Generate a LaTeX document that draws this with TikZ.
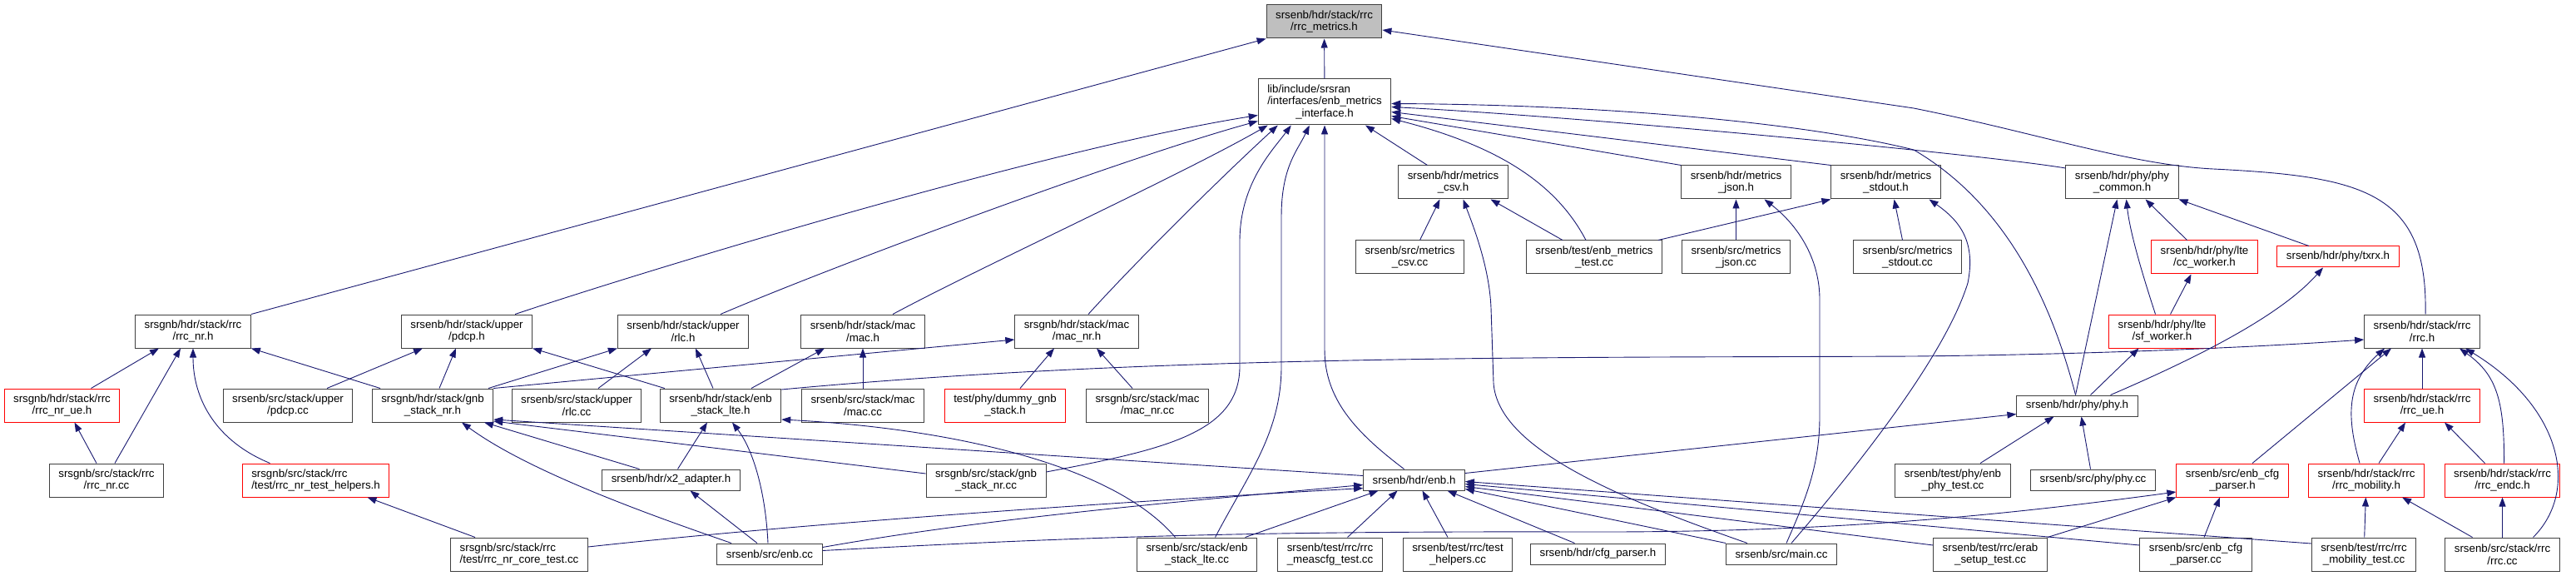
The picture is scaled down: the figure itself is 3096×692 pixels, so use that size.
\documentclass[tikz,border=0pt]{standalone}
\usepackage{fontspec}
\setmainfont{Liberation Sans}
\usetikzlibrary{arrows.meta}
\definecolor{edgeblue}{HTML}{191970}

\begin{document}
\begin{tikzpicture}[x=1pt, y=-1pt, >={Triangle[length=11pt,width=8pt]},
  font=\fontsize{13.3}{14.5}\selectfont,
  box/.style={draw=black!75, line width=1pt, fill=white, align=center,
    inner xsep=11pt, inner ysep=1pt, minimum height=40pt},
  redbox/.style={box, draw=red},
  dep/.style={->, draw=edgeblue, line width=0.9pt}]
\useasboundingbox (0,0) rectangle (3096,692);
% root header
\node[box, fill=black!25] (root) at (1591.5,26) {srsenb/hdr/stack/rrc\\/rrc\_metrics.h};
% metrics interface
\node[box, minimum height=55pt] (iface) at (1592,122.5)
  {\rlap{lib/include/srsran}\hphantom{/interfaces/enb\_metrics}\\/interfaces/enb\_metrics\\\_interface.h};
% metrics headers and sources
\node[box] (csvh) at (1746.5,219) {srsenb/hdr/metrics\\\_csv.h};
\node[box] (jsonh) at (2086.5,219) {srsenb/hdr/metrics\\\_json.h};
\node[box] (stdouth) at (2266.5,219) {srsenb/hdr/metrics\\\_stdout.h};
\node[box] (phycommon) at (2550.5,219) {srsenb/hdr/phy/phy\\\_common.h};
\node[box] (csvcc) at (1694.5,309) {srsenb/src/metrics\\\_csv.cc};
\node[box] (testcc) at (1916,309) {srsenb/test/enb\_metrics\\\_test.cc};
\node[box] (jsoncc) at (2086.5,309) {srsenb/src/metrics\\\_json.cc};
\node[box] (stdoutcc) at (2292.5,309) {srsenb/src/metrics\\\_stdout.cc};
\node[redbox] (ccworker) at (2649.5,309) {srsenb/hdr/phy/lte\\/cc\_worker.h};
\node[redbox, minimum height=25pt] (txrx) at (2810,308.5) {srsenb/hdr/phy/txrx.h};
% stack headers
\node[box] (rrcnrh) at (232,398) {srsgnb/hdr/stack/rrc\\/rrc\_nr.h};
\node[box] (pdcph) at (561,398) {srsenb/hdr/stack/upper\\/pdcp.h};
\node[box] (rlch) at (821,398) {srsenb/hdr/stack/upper\\/rlc.h};
\node[box] (mach) at (1037,398) {srsenb/hdr/stack/mac\\/mac.h};
\node[box] (macnrh) at (1294,398) {srsgnb/hdr/stack/mac\\/mac\_nr.h};
\node[redbox] (sfworker) at (2598.5,398) {srsenb/hdr/phy/lte\\/sf\_worker.h};
\node[box] (rrch) at (2911,398) {srsenb/hdr/stack/rrc\\/rrc.h};
% next row
\node[redbox] (rrcnrue) at (74.5,487) {srsgnb/hdr/stack/rrc\\/rrc\_nr\_ue.h};
\node[box] (pdcpcc) at (346,487) {srsenb/src/stack/upper\\/pdcp.cc};
\node[box] (gnbh) at (520,487) {srsgnb/hdr/stack/gnb\\\_stack\_nr.h};
\node[box] (rlccc) at (693,487) {srsenb/src/stack/upper\\/rlc.cc};
\node[box] (lteh) at (866,487) {srsenb/hdr/stack/enb\\\_stack\_lte.h};
\node[box] (maccc) at (1037,487) {srsenb/src/stack/mac\\/mac.cc};
\node[redbox] (dummy) at (1208,487) {test/phy/dummy\_gnb\\\_stack.h};
\node[box] (macnrcc) at (1379,487) {srsgnb/src/stack/mac\\/mac\_nr.cc};
\node[box, minimum height=25pt] (phyh) at (2496.5,487.5) {srsenb/hdr/phy/phy.h};
\node[redbox] (rrcue) at (2911,487) {srsenb/hdr/stack/rrc\\/rrc\_ue.h};
% enb.h row
\node[box] (rrcnrcc) at (128,577) {srsgnb/src/stack/rrc\\/rrc\_nr.cc};
\node[redbox] (helpers) at (379.5,577)
  {\rlap{srsgnb/src/stack/rrc}\hphantom{/test/rrc\_nr\_test\_helpers.h}\\/test/rrc\_nr\_test\_helpers.h};
\node[box, minimum height=25pt] (x2) at (806.5,576.5) {srsenb/hdr/x2\_adapter.h};
\node[box] (gnbcc) at (1185,577) {srsgnb/src/stack/gnb\\\_stack\_nr.cc};
\node[box, minimum height=25pt] (enbh) at (1699.5,576.5) {srsenb/hdr/enb.h};
\node[box] (phytest) at (2347,577) {srsenb/test/phy/enb\\\_phy\_test.cc};
\node[box, minimum height=25pt] (phycc) at (2515.5,576.5) {srsenb/src/phy/phy.cc};
\node[redbox] (cfgparserh) at (2683,577) {srsenb/src/enb\_cfg\\\_parser.h};
\node[redbox] (mobilityh) at (2844,577) {srsenb/hdr/stack/rrc\\/rrc\_mobility.h};
\node[redbox] (endch) at (3007.5,577) {srsenb/hdr/stack/rrc\\/rrc\_endc.h};
% bottom row
\node[box] (coretest) at (624,666)
  {\rlap{srsgnb/src/stack/rrc}\hphantom{/test/rrc\_nr\_core\_test.cc}\\/test/rrc\_nr\_core\_test.cc};
\node[box, minimum height=25pt] (enbcc) at (925,665.5) {srsenb/src/enb.cc};
\node[box] (ltecc) at (1438.5,666) {srsenb/src/stack/enb\\\_stack\_lte.cc};
\node[box] (meascfg) at (1598.5,666) {srsenb/test/rrc/rrc\\\_meascfg\_test.cc};
\node[box] (testhelpers) at (1752,666) {srsenb/test/rrc/test\\\_helpers.cc};
\node[box, minimum height=25pt] (cfgparser) at (1920.5,665.5) {srsenb/hdr/cfg\_parser.h};
\node[box, minimum height=25pt] (maincc) at (2141,665.5) {srsenb/src/main.cc};
\node[box] (erab) at (2392,666) {srsenb/test/rrc/erab\\\_setup\_test.cc};
\node[box] (cfgparsercc) at (2639,666) {srsenb/src/enb\_cfg\\\_parser.cc};
\node[box] (mobilitytest) at (2841,666) {srsenb/test/rrc/rrc\\\_mobility\_test.cc};
\node[box] (rrccc) at (3007.5,666) {srsenb/src/stack/rrc\\/rrc.cc};
% into rrc_metrics.h
\draw[dep] (iface) -- (root);
\draw[dep] (rrcnrh.north east) -- (root.south west);
\draw[dep] ([xshift=4pt]rrch.north) .. controls (2918,230) and (2840,212) .. (2660,203)
  .. controls (2560,198) and (2450,160) .. (2300,130) -- ([yshift=-10pt]root.east);
% into enb_metrics_interface.h
\draw[dep] ([xshift=-21pt]pdcph.north east) .. controls (760,330) and (1250,180) .. ([yshift=-16pt]iface.west);
\draw[dep] ([xshift=45pt]rlch.north) .. controls (1000,320) and (1350,190) .. ([yshift=-23pt]iface.west);
\draw[dep] ([xshift=36pt]mach.north) .. controls (1180,320) and (1420,210) .. ([xshift=12pt]iface.south west);
\draw[dep] ([xshift=14pt]macnrh.north) .. controls (1360,320) and (1460,220) .. ([xshift=24pt]iface.south west);
\draw[dep] ([yshift=10pt]gnbcc.east) .. controls (1400,540) and (1490,520) .. (1490,440) -- (1490,290)
  .. controls (1490,220) and (1530,180) .. ([xshift=40pt]iface.south west);
\draw[dep] ([xshift=22pt]ltecc.north) .. controls (1500,570) and (1540,520) .. (1540,440) -- (1540,260)
  .. controls (1540,200) and (1560,180) .. ([xshift=62pt]iface.south west);
\draw[dep] ([xshift=-12pt]enbh.north) .. controls (1630,520) and (1592,480) .. (1592,420) -- (iface.south);
\draw[dep] ([xshift=-31pt]csvh.north) -- ([xshift=49pt]iface.south);
\draw[dep] ([xshift=-10pt]testcc.north) .. controls (1870,220) and (1800,175) .. ([yshift=-20pt]iface.east);
\draw[dep] (jsonh.north west) -- ([yshift=-17pt]iface.east);
\draw[dep] (stdouth.north west) -- ([yshift=-12pt]iface.east);
\draw[dep] ([yshift=17pt]phycommon.west) .. controls (2380,185) and (1900,140) .. ([yshift=-6pt]iface.east);
\draw[dep] ([xshift=-2pt]phyh.north) .. controls (2470,380) and (2420,250) .. (2300,180)
  .. controls (2180,150) and (1950,126) .. ([yshift=-2pt]iface.east);
% metrics
\draw[dep] ([xshift=12pt]csvcc.north) -- ([xshift=-16pt]csvh.south);
\draw[dep] ([xshift=-38pt]testcc.north) -- ([xshift=45pt]csvh.south);
\draw[dep] ([xshift=77pt]testcc.north) -- (stdouth.south west);
\draw[dep] (jsoncc) -- (jsonh);
\draw[dep] ([xshift=-6pt]stdoutcc.north) -- ([xshift=10pt]stdouth.south);
\draw[dep] ([xshift=-41pt]maincc.north) .. controls (1950,600) and (1800,540) .. (1795,460) -- (1792,370)
  .. controls (1790,320) and (1770,270) .. ([xshift=12pt]csvh.south);
\draw[dep] ([xshift=6pt]maincc.north) .. controls (2170,600) and (2187,560) .. (2187,500) -- (2187,360)
  .. controls (2187,310) and (2160,270) .. ([xshift=34pt]jsonh.south);
\draw[dep] ([xshift=12pt]maincc.north) .. controls (2250,540) and (2340,420) .. (2365,340)
  .. controls (2375,290) and (2355,265) .. ([xshift=52pt]stdouth.south);
% phy
\draw[dep] ([xshift=-2pt]phyh.north) -- ([xshift=-6pt]phycommon.south);
\draw[dep] ([xshift=-8pt]sfworker.north) .. controls (2575,330) and (2560,280) .. ([xshift=5pt]phycommon.south);
\draw[dep] ([xshift=-21pt]ccworker.north) -- ([xshift=28pt]phycommon.south);
\draw[dep] ([xshift=-35pt]txrx.north) -- (phycommon.south east);
\draw[dep] ([xshift=10pt]sfworker.north) -- ([xshift=-16pt]ccworker.south);
\draw[dep] ([xshift=16pt]phyh.north) -- ([xshift=-28pt]sfworker.south);
\draw[dep] ([xshift=40pt]phyh.north) .. controls (2640,430) and (2740,380) .. ([xshift=-18pt]txrx.south);
\draw[dep] ([yshift=8pt]enbh.east) -- ([yshift=-10pt]phyh.west);
\draw[dep] ([xshift=33pt]phytest.north) -- ([xshift=-28pt]phyh.south);
\draw[dep] ([xshift=-3pt]phycc.north) -- ([xshift=5pt]phyh.south);
% rrc
\draw[dep] ([yshift=19pt]lteh.east) .. controls (1400,425) and (1900,430) .. (2300,428)
  .. controls (2500,426) and (2700,418) .. ([yshift=-10pt]rrch.west);
\draw[dep] ([xshift=24pt]cfgparserh.north) -- ([xshift=-37pt]rrch.south);
\draw[dep] ([xshift=-8pt]mobilityh.north) .. controls (2820,500) and (2820,460) .. ([xshift=-45pt]rrch.south);
\draw[dep] (rrcue) -- (rrch);
\draw[dep] ([xshift=2pt]endch.north) .. controls (3010,480) and (3000,450) .. ([xshift=45pt]rrch.south);
\draw[dep] ([xshift=37pt]rrccc.north) .. controls (3100,590) and (3080,490) .. ([xshift=52pt]rrch.south);
\draw[dep] ([xshift=15pt]mobilityh.north) -- ([xshift=-20pt]rrcue.south);
\draw[dep] ([xshift=-21pt]endch.north) -- ([xshift=27pt]rrcue.south);
\draw[dep] (mobilitytest) -- (mobilityh);
\draw[dep] ([xshift=-36pt]rrccc.north) -- ([xshift=43pt]mobilityh.south);
\draw[dep] (rrccc) -- (endch);
\draw[dep] ([xshift=10pt]cfgparsercc.north) -- ([xshift=-15pt]cfgparserh.south);
\draw[dep] (erab.north east) -- (cfgparserh.south west);
\draw[dep] ([yshift=4pt]enbcc.east) .. controls (1300,645) and (1500,638) .. (1900,639)
  .. controls (2200,640) and (2400,620) .. ([yshift=-14pt]cfgparserh.west);
% enb.h
\draw[dep] ([yshift=8pt]enbcc.east) .. controls (1200,620) and (1450,600) .. ([yshift=-6pt]enbh.west);
\draw[dep] ([yshift=9pt]coretest.east) .. controls (1000,625) and (1400,600) .. ([yshift=-10pt]enbh.west);
\draw[dep] ([xshift=58pt]ltecc.north) -- ([xshift=-43pt]enbh.south);
\draw[dep] ([xshift=21pt]meascfg.north) -- ([xshift=-20pt]enbh.south);
\draw[dep] ([xshift=-12pt]testhelpers.north) -- ([xshift=10pt]enbh.south);
\draw[dep] ([xshift=-28pt]cfgparser.north) -- ([xshift=40pt]enbh.south);
\draw[dep] (maincc.north west) -- ([yshift=-11pt]enbh.east);
\draw[dep] ([yshift=11pt]erab.west) -- ([yshift=-8pt]enbh.east);
\draw[dep] ([yshift=11pt]cfgparsercc.west) -- ([yshift=-5pt]enbh.east);
\draw[dep] ([yshift=13pt]mobilitytest.west) -- ([yshift=-2pt]enbh.east);
% gnb stack
\draw[dep] ([yshift=5pt]enbh.west) -- ([yshift=-17pt]gnbh.east);
\draw[dep] ([yshift=8pt]gnbcc.west) -- ([yshift=-19pt]gnbh.east);
\draw[dep] ([xshift=-38pt]x2.north) -- ([xshift=62pt]gnbh.south);
\draw[dep] ([xshift=-46pt]enbcc.north) .. controls (800,625) and (640,570) .. ([xshift=35pt]gnbh.south);
\draw[dep] ([xshift=-63pt]gnbh.north) -- (rrcnrh.south east);
\draw[dep] ([xshift=8pt]gnbh.north) -- ([xshift=-13pt]pdcph.south);
\draw[dep] ([xshift=67pt]gnbh.north) -- (rlch.south west);
\draw[dep] (gnbh.north east) -- ([yshift=-10pt]macnrh.west);
% rrc_nr
\draw[dep] ([xshift=35pt]rrcnrue.north) -- ([xshift=-41pt]rrcnrh.south);
\draw[dep] ([xshift=10pt]rrcnrcc.north) -- ([xshift=-15pt]rrcnrh.south);
\draw[dep] ([xshift=-55pt]helpers.north) .. controls (260,530) and (232,480) .. (rrcnrh.south);
\draw[dep] ([xshift=-12pt]rrcnrcc.north) -- ([xshift=15pt]rrcnrue.south);
\draw[dep] ([xshift=-53pt]coretest.north) -- ([xshift=62pt]helpers.south);
% lte stack
\draw[dep] ([xshift=47pt]pdcpcc.north) -- ([xshift=-53pt]pdcph.south);
\draw[dep] ([xshift=6pt]lteh.north west) -- (pdcph.south east);
\draw[dep] ([xshift=26pt]rlccc.north) -- ([xshift=-38pt]rlch.south);
\draw[dep] ([xshift=-9pt]lteh.north) -- ([xshift=15pt]rlch.south);
\draw[dep] ([xshift=37pt]lteh.north) -- ([xshift=-46pt]mach.south);
\draw[dep] (maccc) -- (mach);
\draw[dep] ([xshift=18pt]dummy.north) -- ([xshift=-27pt]macnrh.south);
\draw[dep] ([xshift=-18pt]macnrcc.north) -- ([xshift=24pt]macnrh.south);
\draw[dep] ([xshift=8pt]x2.north) -- ([xshift=-16pt]lteh.south);
\draw[dep] ([xshift=-2pt]enbcc.north) .. controls (920,590) and (905,540) .. ([xshift=14pt]lteh.south);
\draw[dep] ([xshift=-15pt]enbcc.north) -- ([xshift=23pt]x2.south);
\draw[dep] ([xshift=-26pt]ltecc.north) .. controls (1340,560) and (1150,515) .. ([yshift=-17pt]lteh.east);
\end{tikzpicture}
\end{document}
